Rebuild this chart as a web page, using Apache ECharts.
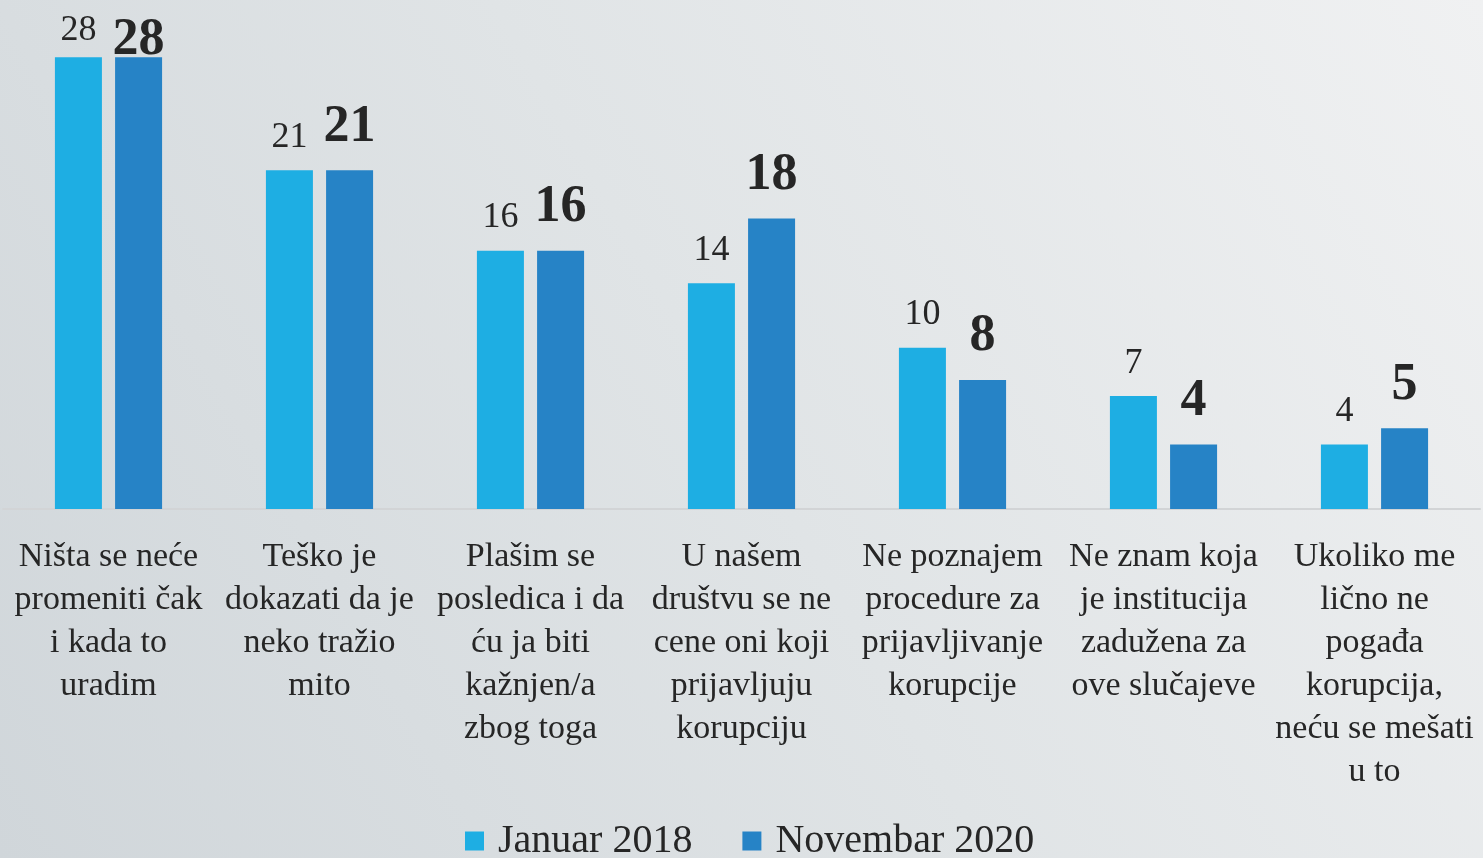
<!DOCTYPE html>
<html>
<head>
<meta charset="utf-8">
<script src="https://cdn.jsdelivr.net/npm/echarts@6/dist/echarts.min.js"></script>
<style>
html, body { margin: 0; padding: 0; }
#chart { width: 1483px; height: 858px; }
</style>
</head>
<body>
<div id="chart"></div>
<script>
var categories = [
  'Ništa se neće\npromeniti čak\ni kada to\nuradim',
  'Teško je\ndokazati da je\nneko tražio\nmito',
  'Plašim se\nposledica i da\nću ja biti\nkažnjen/a\nzbog toga',
  'U našem\ndruštvu se ne\ncene oni koji\nprijavljuju\nkorupciju',
  'Ne poznajem\nprocedure za\nprijavljivanje\nkorupcije',
  'Ne znam koja\nje institucija\nzadužena za\nove slučajeve',
  'Ukoliko me\nlično ne\npogađa\nkorupcija,\nneću se mešati\nu to'
]
var seriesNames = ['Januar 2018', 'Novembar 2020']
var jan2018 = [28, 21, 16, 14, 10, 7, 4]
var nov2020 = [28, 21, 16, 18, 8, 4, 5]

var font = '"Liberation Serif", "DejaVu Serif", serif'
var textColor = '#262626'

// prvi stubac je uz vrh, pa su oznake spustene kao u originalu
function withTopLabel(values, distance) {
  return values.map(function (v, i) {
    if (i === 0) {
      return { value: v, label: { distance: distance } }
    }
    return v
  })
}

var chart = echarts.init(document.getElementById('chart'))
chart.setOption({
  backgroundColor: {
    type: 'linear', x: 1, y: 0, x2: 0, y2: 1,
    colorStops: [
      { offset: 0, color: '#f0f1f2' },
      { offset: 0.5, color: '#e0e4e6' },
      { offset: 1, color: '#d0d6da' }
    ]
  },
  animation: false,
  textStyle: { fontFamily: font },
  legend: {
    data: seriesNames,
    left: 460,
    top: 816,
    itemWidth: 19,
    itemHeight: 19,
    itemGap: 50,
    icon: 'rect',
    textStyle: { fontFamily: font, fontSize: 40, color: textColor, padding: [0, 0, 0, 9] }
  },
  grid: { left: 3, right: 3, top: 25, bottom: 349 },
  xAxis: {
    type: 'category',
    data: categories,
    axisLine: { lineStyle: { color: '#d2d4d6', width: 2 } },
    axisTick: { show: false },
    axisLabel: {
      interval: 0,
      margin: 27,
      fontFamily: font,
      fontSize: 34,
      lineHeight: 43,
      color: textColor
    }
  },
  yAxis: {
    type: 'value',
    min: 0,
    max: 30,
    show: false,
    splitLine: { show: false }
  },
  series: [
    {
      name: seriesNames[0],
      type: 'bar',
      data: withTopLabel(jan2018, 9),
      barWidth: 47,
      barGap: '28%',
      itemStyle: { color: '#1eaee3' },
      label: {
        show: true,
        position: 'top',
        distance: 15,
        fontFamily: font,
        fontSize: 36,
        color: textColor
      }
    },
    {
      name: seriesNames[1],
      type: 'bar',
      data: withTopLabel(nov2020, -9),
      barWidth: 47,
      itemStyle: { color: '#2683c6' },
      label: {
        show: true,
        position: 'top',
        distance: 17,
        fontFamily: font,
        fontSize: 52,
        fontWeight: 'bold',
        color: textColor
      }
    }
  ]
})
</script>
</body>
</html>
